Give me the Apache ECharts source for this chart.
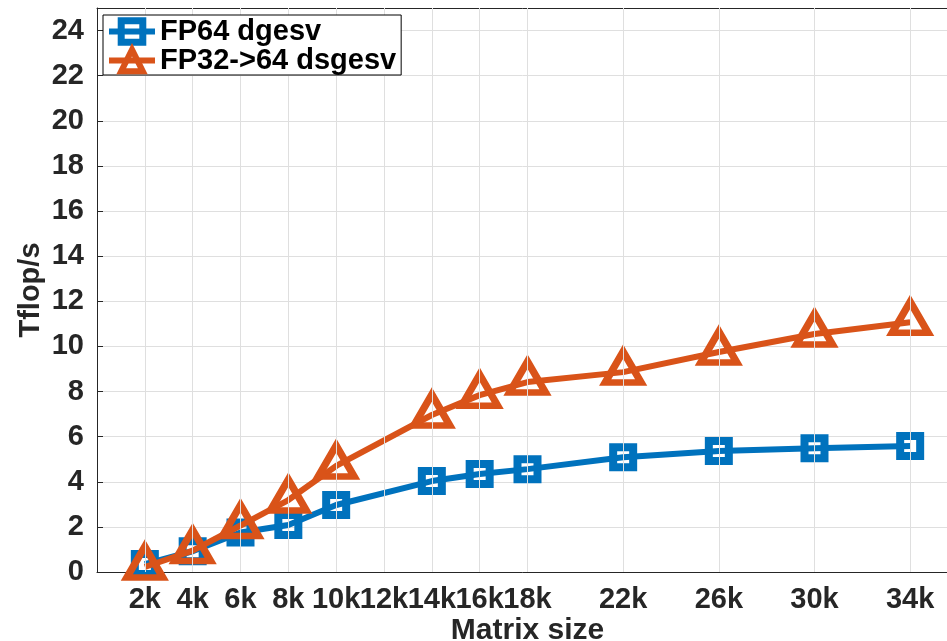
<!DOCTYPE html>
<html><head><meta charset="utf-8">
<script src="https://cdn.jsdelivr.net/npm/echarts@6/dist/echarts.min.js"></script>
<style>html,body{margin:0;padding:0;background:#fff;} #c{width:947px;height:641px;}</style>
</head><body><div id="c"></div>
<script>
// Matrix sizes in thousands (k)
const matrixSizes = [2, 4, 6, 8, 10, 14, 16, 18, 22, 26, 30, 34];
const fp64Dgesv   = [0.35, 0.92, 1.75, 2.08, 2.97, 4.03, 4.34, 4.56, 5.09, 5.36, 5.49, 5.58];
const fp32Dsgesv  = [0.22, 0.95, 2.06, 3.19, 4.70, 6.96, 7.84, 8.42, 8.86, 9.75, 10.55, 11.07];
const xTickValues = [2, 4, 6, 8, 10, 12, 14, 16, 18, 22, 26, 30, 34];
const yTickValues = [0, 2, 4, 6, 8, 10, 12, 14, 16, 18, 20, 22, 24];
const seriesNames = ['FP64 dgesv', 'FP32->64 dsgesv'];

const FONT = '"Liberation Sans", Arial, Helvetica, sans-serif';
const AX = '#262626';
const GRID = '#dfdfdf';
const BLUE = '#0072BD';
const ORANGE = '#D95319';

const chart = echarts.init(document.getElementById('c'), null, {renderer: 'canvas'});
const pairs = (xs, ys) => xs.map((x, i) => [x, ys[i]]);

chart.setOption({
  animation: false,
  backgroundColor: '#fff',
  grid: {left: 97, top: 8, width: 861, bottom: 69, containLabel: false, outerBoundsMode: 'none'},
  legend: {
    left: 103, top: 15, orient: 'vertical', z: 10,
    backgroundColor: '#fff', borderColor: '#000', borderWidth: 1,
    padding: [2, 5, 0, 3], itemGap: 0, itemWidth: 46, itemHeight: 27,
    textStyle: {fontFamily: FONT, fontWeight: 'bold', fontSize: 29, lineHeight: 27, color: '#000'},
    lineStyle: {width: 6},
    data: [
      {name: seriesNames[0], itemStyle: {borderWidth: 7}},
      {name: seriesNames[1], itemStyle: {borderWidth: 6}}
    ]
  },
  xAxis: [{
    type: 'value', min: 0, max: 36, interval: 2,
    name: 'Matrix size', nameLocation: 'middle', nameGap: 44, nameMoveOverlap: false,
    nameTextStyle: {fontFamily: FONT, fontWeight: 'bold', fontSize: 30, color: AX},
    axisLine: {show: true, onZero: false, lineStyle: {color: AX, width: 1}},
    axisTick: {show: true, inside: true, length: 6, customValues: xTickValues, lineStyle: {color: AX}},
    axisLabel: {customValues: xTickValues, margin: 13, fontFamily: FONT, fontWeight: 'bold', fontSize: 29, color: AX,
      formatter: v => v + 'k'},
    splitLine: {show: false}
  }, {
    type: 'value', position: 'top', min: 0, max: 36, interval: 2,
    axisLine: {show: true, onZero: false, lineStyle: {color: AX, width: 1}},
    axisTick: {show: true, inside: true, length: 6, customValues: xTickValues, lineStyle: {color: AX}},
    axisLabel: {show: false},
    splitLine: {show: false}
  }],
  yAxis: {
    type: 'value', min: 0, max: 25, interval: 2,
    name: 'Tflop/s', nameLocation: 'middle', nameGap: 52, nameMoveOverlap: false,
    nameTextStyle: {fontFamily: FONT, fontWeight: 'bold', fontSize: 29, color: AX},
    axisLine: {show: true, lineStyle: {color: AX, width: 1}},
    axisTick: {show: true, inside: true, length: 6, customValues: yTickValues, lineStyle: {color: AX}},
    axisLabel: {customValues: yTickValues, margin: 13, fontFamily: FONT, fontWeight: 'bold', fontSize: 29, color: AX},
    splitLine: {show: true, lineStyle: {color: GRID, width: 1}}
  },
  series: [{
    type: 'line', xAxisIndex: 0, data: [], z: 1, silent: true,
    markLine: {
      silent: true, symbol: ['none', 'none'], animation: false,
      label: {show: false},
      lineStyle: {color: GRID, width: 1, type: 'solid'},
      emphasis: {disabled: true},
      data: xTickValues.map(v => ({xAxis: v}))
    }
  }, {
    name: seriesNames[0], type: 'line', xAxisIndex: 0, z: 3,
    data: pairs(matrixSizes, fp64Dgesv),
    symbol: 'rect', symbolSize: 20,
    lineStyle: {color: BLUE, width: 6},
    itemStyle: {color: 'rgba(0,0,0,0)', borderColor: BLUE, borderWidth: 8},
    emphasis: {disabled: true}
  }, {
    name: seriesNames[1], type: 'line', xAxisIndex: 0, z: 4,
    data: pairs(matrixSizes, fp32Dsgesv),
    symbol: 'triangle', symbolSize: [36, 31], symbolOffset: [0, -5],
    lineStyle: {color: ORANGE, width: 6},
    itemStyle: {color: 'rgba(0,0,0,0)', borderColor: ORANGE, borderWidth: 7},
    emphasis: {disabled: true}
  }]
});
</script></body></html>
